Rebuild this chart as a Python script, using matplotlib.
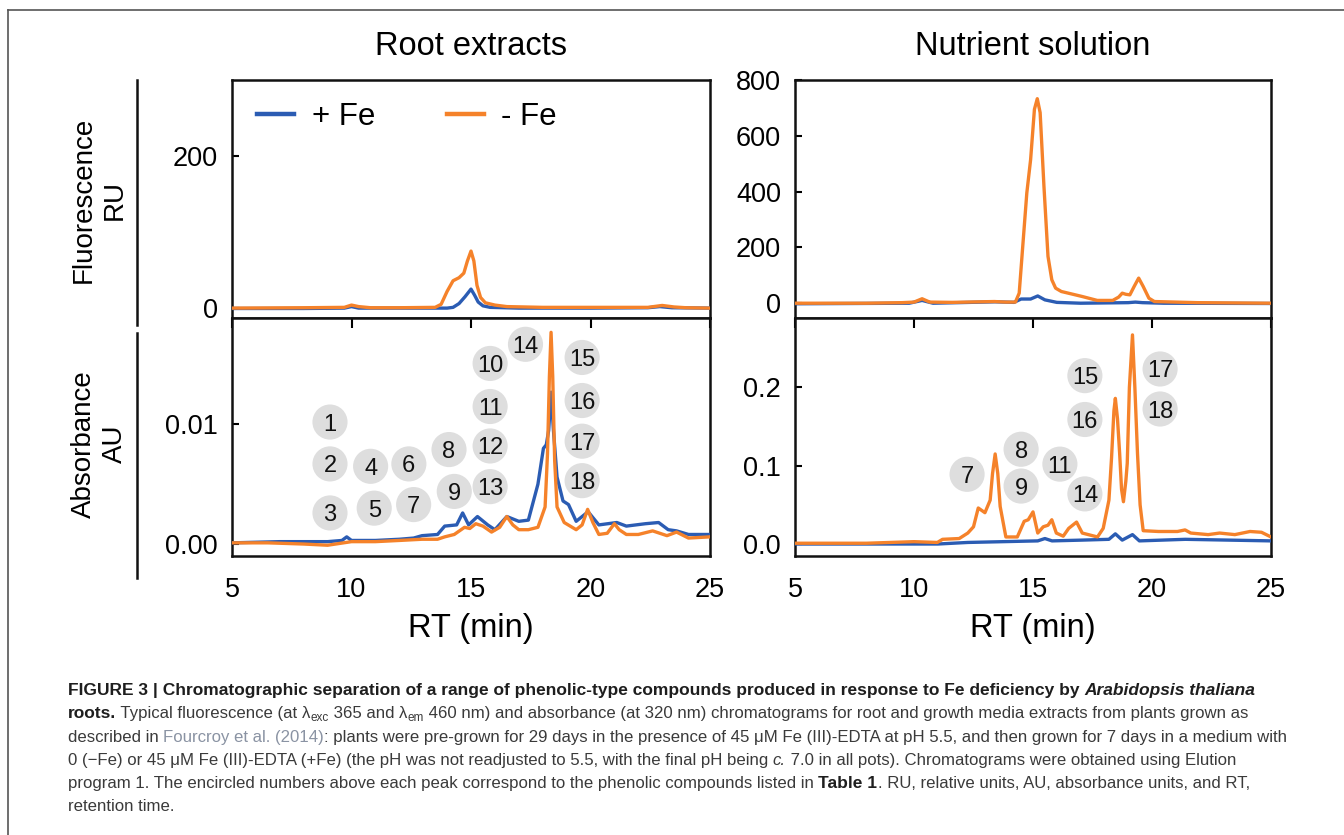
import matplotlib
matplotlib.use('Agg')
import matplotlib.pyplot as plt
from matplotlib.ticker import FormatStrFormatter
from matplotlib.lines import Line2D

plt.rcParams['font.family'] = ['Liberation Sans', 'DejaVu Sans']

BLUE = '#2b5cb3'
ORANGE = '#f5822a'

# ---- data (RT in min) ----
xticks = [5, 10, 15, 20, 25]

# Root extracts, fluorescence (RU)
root_fl_rt_plus = [5, 8, 9.7, 10.0, 10.3, 12, 14.0, 14.25, 14.5, 14.75, 15.0, 15.15, 15.3, 15.5, 15.8, 17, 20, 22.4, 22.9, 23.4, 25]
root_fl_plus = [-0.5, -0.5, 0, 2, 0, 0, 0, 1, 6, 15, 25, 17, 8, 3, 1, 0, 0, 0.5, 2, 0.5, 0]
root_fl_rt_minus = [5, 8, 9.7, 10.0, 10.3, 10.8, 12, 13.5, 13.75, 14.0, 14.25, 14.5, 14.7, 14.85, 15.0, 15.12,
                    15.25, 15.4, 15.6, 16.0, 16.5, 18, 20, 22.4, 23.0, 23.5, 24, 25]
root_fl_minus = [0, 0.5, 1, 4, 2, 0.5, 0.5, 1, 5, 22, 36, 40, 46, 62, 75, 62,
                 30, 14, 7, 4, 2, 1, 1, 1, 3.5, 1.5, 0.5, 0]

# Nutrient solution, fluorescence (RU)
nut_fl_rt_plus = [5, 9.8, 10.34, 10.8, 13.4, 14.2, 14.5, 14.9, 15.2, 15.5, 16.0, 17.0, 19.0, 19.3, 19.6, 20.5, 25]
nut_fl_plus = [-2, 0, 10, 0, 5, 3, 15, 15, 26, 12, 3, 0, 2, 4, 2, 0, -1]
nut_fl_rt_minus = [5, 8, 9.5, 10.0, 10.34, 10.66, 11.6, 13.38, 13.86, 14.26, 14.42, 14.58, 14.74, 14.9, 15.06,
                   15.18, 15.3, 15.46, 15.63, 15.79, 15.95, 16.19, 17.07, 17.7, 18.35, 18.6, 18.75, 18.9, 19.07,
                   19.25, 19.44, 19.63, 19.87, 20.1, 21.9, 25]
nut_fl_minus = [0, 0, 2, 4, 16, 4, 3, 6, 4, 4, 36, 216, 395, 515, 695,
                733, 683, 419, 168, 84, 54, 42, 24, 10, 10, 22, 36, 32, 30,
                60, 90, 60, 18, 6, 2, 0]

# Root extracts, absorbance (AU)
root_ab_rt_plus = [5, 7, 9, 9.6, 9.8, 10.0, 11, 12.0, 12.6, 12.95, 13.6, 13.9, 14.4, 14.65, 14.9, 15.27, 15.7,
                   16.0, 16.5, 17.0, 17.4, 17.8, 18.03, 18.15, 18.25, 18.35, 18.45, 18.6, 18.85, 19.08, 19.4,
                   19.9, 20.35, 21.1, 21.5, 22.3, 22.85, 23.25, 23.6, 24.1, 25]
root_ab_plus = [0.0001, 0.0002, 0.0002, 0.0003, 0.0006, 0.0003, 0.0003, 0.0004, 0.0005, 0.0007, 0.0008, 0.0015,
                0.0016, 0.0026, 0.0016, 0.0023, 0.0016, 0.0012, 0.0023, 0.0019, 0.0020, 0.0050, 0.0080, 0.0083,
                0.0095, 0.0127, 0.0095, 0.0056, 0.0036, 0.0033, 0.0019, 0.0027, 0.0016, 0.0018, 0.0015, 0.0017,
                0.0018, 0.0012, 0.0011, 0.0008, 0.0008]
root_ab_rt_minus = [5, 6.5, 8, 9, 10, 11, 12, 12.95, 13.6, 13.9, 14.3, 14.73, 14.95, 15.2, 15.5, 15.86, 16.2,
                    16.5, 16.75, 17.0, 17.4, 17.8, 18.1, 18.2, 18.28, 18.35, 18.42, 18.5, 18.6, 18.9, 19.4,
                    19.65, 19.88, 20.1, 20.35, 20.7, 21.0, 21.2, 21.5, 22.0, 22.6, 23.2, 23.6, 24.1, 25]
root_ab_minus = [0.0001, 0.0001, 0.0, -0.0001, 0.0002, 0.0002, 0.0003, 0.0004, 0.0004, 0.0006, 0.0008, 0.0014,
                 0.0013, 0.0017, 0.0015, 0.0010, 0.0014, 0.0023, 0.0016, 0.0012, 0.0012, 0.0014, 0.0031, 0.0075,
                 0.0140, 0.0177, 0.0140, 0.0070, 0.0031, 0.0018, 0.0012, 0.0016, 0.0029, 0.0018, 0.0008, 0.0009,
                 0.0017, 0.0012, 0.0008, 0.0008, 0.0011, 0.0007, 0.0010, 0.0005, 0.0006]

# Nutrient solution, absorbance (AU)
nut_ab_rt_plus = [5, 11, 12.26, 15.2, 15.5, 15.8, 17.07, 18.19, 18.46, 18.75, 19.18, 19.47, 21.4, 25]
nut_ab_plus = [0.0, 0.0, 0.002, 0.004, 0.007, 0.004, 0.005, 0.006, 0.013, 0.005, 0.012, 0.004, 0.006, 0.004]
nut_ab_rt_minus = [5, 8, 10.0, 10.98, 11.2, 11.9, 12.26, 12.5, 12.7, 12.98, 13.2, 13.3, 13.41, 13.52, 13.62,
                   13.86, 14.34, 14.63, 14.8, 15.0, 15.2, 15.43, 15.63, 15.79, 15.98, 16.27, 16.5, 16.83, 17.07,
                   17.71, 17.95, 18.19, 18.3, 18.4, 18.46, 18.55, 18.64, 18.72, 18.8, 18.9, 18.96, 19.05, 19.18,
                   19.28, 19.39, 19.5, 19.63, 20.27, 21.07, 21.39, 21.63, 22.36, 22.84, 23.48, 24.12, 24.6, 25]
nut_ab_minus = [0.001, 0.001, 0.003, 0.002, 0.006, 0.007, 0.014, 0.022, 0.046, 0.040, 0.056, 0.090, 0.115,
                0.090, 0.048, 0.009, 0.009, 0.029, 0.031, 0.041, 0.014, 0.022, 0.024, 0.031, 0.014, 0.010,
                0.020, 0.028, 0.014, 0.009, 0.020, 0.056, 0.110, 0.170, 0.186, 0.160, 0.116, 0.070, 0.054,
                0.080, 0.103, 0.200, 0.267, 0.200, 0.116, 0.050, 0.017, 0.016, 0.016, 0.018, 0.014, 0.012,
                0.014, 0.012, 0.016, 0.015, 0.009]

# encircled compound numbers (label, RT, height)
root_peaks = [('1', 9.1, 0.0102), ('2', 9.1, 0.0067), ('3', 9.1, 0.0026), ('4', 10.8, 0.0065),
              ('5', 10.95, 0.0030), ('6', 12.4, 0.0067), ('7', 12.6, 0.0033), ('8', 14.08, 0.0079),
              ('9', 14.3, 0.0044), ('10', 15.8, 0.0151), ('11', 15.8, 0.0115), ('12', 15.8, 0.0082),
              ('13', 15.8, 0.0048), ('14', 17.28, 0.0167), ('15', 19.65, 0.0156), ('16', 19.65, 0.0120),
              ('17', 19.65, 0.0086), ('18', 19.65, 0.0053)]
nut_peaks = [('7', 12.23, 0.089), ('8', 14.5, 0.121), ('9', 14.5, 0.074), ('11', 16.13, 0.102),
             ('14', 17.18, 0.064), ('15', 17.18, 0.215), ('16', 17.18, 0.159), ('17', 20.34, 0.2235),
             ('18', 20.34, 0.1724)]

# ---- figure ----
W, H = 1344, 835
fig = plt.figure(figsize=(W / 100, H / 100), dpi=100)


def px_box(x0, y0, x1, y1):
    return [x0 / W, 1 - y1 / H, (x1 - x0) / W, (y1 - y0) / H]


ax_rf = fig.add_axes(px_box(232, 80, 710, 318))
ax_ra = fig.add_axes(px_box(232, 318, 710, 556))
ax_nf = fig.add_axes(px_box(795, 80, 1271, 318))
ax_na = fig.add_axes(px_box(795, 318, 1271, 556))


def style(ax, top):
    for s in ax.spines.values():
        s.set_linewidth(1.8)
        s.set_color('#111111')
    ax.set_xlim(5, 25)
    ax.set_xticks(xticks)
    ax.tick_params(axis='y', direction='in', length=5, width=1.5, labelsize=19.5, pad=10)
    if top:
        ax.tick_params(axis='x', bottom=False, labelbottom=False)
    else:
        ax.tick_params(axis='x', top=True, bottom=False, direction='in', length=7, width=1.5,
                       labelsize=19.5, pad=15)
        ax.set_xlabel('RT (min)', fontsize=23.5, labelpad=7)


def peak_labels(ax, peaks):
    ax.scatter([p[1] for p in peaks], [p[2] for p in peaks], s=640, color='#dedede',
               edgecolors='none', zorder=1)
    for lab, x, y in peaks:
        ax.text(x, y, lab, ha='center', va='center_baseline', fontsize=17, color='#111111', zorder=2)


lw = 2.4
ax_rf.plot(root_fl_rt_plus, root_fl_plus, color=BLUE, lw=lw, label='+ Fe', zorder=3)
ax_rf.plot(root_fl_rt_minus, root_fl_minus, color=ORANGE, lw=lw, label='- Fe', zorder=4)
ax_rf.set_ylim(-13, 300)
ax_rf.set_yticks([0, 200])
style(ax_rf, True)
ax_rf.set_title('Root extracts', fontsize=23.5, pad=18)
leg = ax_rf.legend(loc='center left', bbox_to_anchor=(0.052, 0.846), ncol=2, frameon=False, fontsize=22.5,
                   handlelength=1.2, handletextpad=0.55, columnspacing=2.3, borderpad=0, borderaxespad=0)
for h in leg.get_lines():
    h.set_linewidth(3.2)

ax_ra.plot(root_ab_rt_plus, root_ab_plus, color=BLUE, lw=lw, zorder=3)
ax_ra.plot(root_ab_rt_minus, root_ab_minus, color=ORANGE, lw=lw, zorder=4)
ax_ra.set_ylim(-0.001, 0.0189)
ax_ra.set_yticks([0, 0.01])
ax_ra.yaxis.set_major_formatter(FormatStrFormatter('%.2f'))
style(ax_ra, False)
peak_labels(ax_ra, root_peaks)

ax_nf.plot(nut_fl_rt_plus, nut_fl_plus, color=BLUE, lw=lw, zorder=3)
ax_nf.plot(nut_fl_rt_minus, nut_fl_minus, color=ORANGE, lw=lw, zorder=4)
ax_nf.set_ylim(-53, 800)
ax_nf.set_yticks([0, 200, 400, 600, 800])
style(ax_nf, True)
ax_nf.set_title('Nutrient solution', fontsize=23.5, pad=18)

ax_na.plot(nut_ab_rt_plus, nut_ab_plus, color=BLUE, lw=lw, zorder=3)
ax_na.plot(nut_ab_rt_minus, nut_ab_minus, color=ORANGE, lw=lw, zorder=4)
ax_na.set_ylim(-0.0153, 0.2886)
ax_na.set_yticks([0, 0.1, 0.2])
ax_na.yaxis.set_major_formatter(FormatStrFormatter('%.1f'))
style(ax_na, False)
peak_labels(ax_na, nut_peaks)

# row labels with bars
fig.text(99 / W, 1 - 200 / H, 'Fluorescence\nRU', rotation=90, ha='center', va='center',
         fontsize=20, linespacing=1.25, multialignment='center')
fig.text(99 / W, 1 - 444 / H, 'Absorbance\nAU', rotation=90, ha='center', va='center',
         fontsize=20, linespacing=1.25, multialignment='center')
for y0, y1 in [(80, 325), (333, 578)]:
    fig.add_artist(Line2D([137 / W, 137 / W], [1 - y0 / H, 1 - y1 / H], color='#111111', lw=1.8))

# frame
fig.add_artist(Line2D([8 / W, 8 / W], [0, 1 - 10 / H], color='#555555', lw=1.2))
fig.add_artist(Line2D([8 / W, 1], [1 - 10 / H, 1 - 10 / H], color='#555555', lw=1.2))

# ---- caption ----
cap_family = ['Liberation Sans Narrow', 'Liberation Sans', 'DejaVu Sans']
TXT = '#3a3a3a'
reg = dict(color=TXT)
bold = dict(color='#1e1e1e', weight='bold')
boldit = dict(color='#1e1e1e', weight='bold', style='italic')
ital = dict(color=TXT, style='italic')
link = dict(color='#8a93a3')
sub = dict(color=TXT, sub=True)

caption = [
    [('FIGURE 3 | Chromatographic separation of a range of phenolic-type compounds produced in response to '
      'Fe deficiency by ', bold), ('Arabidopsis thaliana', boldit)],
    [('roots.', bold), (' Typical fluorescence (at ', reg), ('\u03bb', reg), ('exc', sub), (' 365 and ', reg),
     ('\u03bb', reg), ('em', sub), (' 460 nm) and absorbance (at 320 nm) chromatograms for root and growth '
                                   'media extracts from plants grown as', reg)],
    [('described in ', reg), ('Fourcroy et al. (2014)', link),
     (': plants were pre-grown for 29 days in the presence of 45 \u03bcM Fe (III)-EDTA at pH 5.5, and then '
      'grown for 7 days in a medium with', reg)],
    [('0 (\u2212Fe) or 45 \u03bcM Fe (III)-EDTA (+Fe) (the pH was not readjusted to 5.5, with the final pH '
      'being ', reg), ('c.', ital), (' 7.0 in all pots). Chromatograms were obtained using Elution', reg)],
    [('program 1. The encircled numbers above each peak correspond to the phenolic compounds listed in ', reg),
     ('Table 1', bold), ('. RU, relative units, AU, absorbance units, and RT,', reg)],
    [('retention time.', reg)],
]
baselines = [695, 718, 742, 765, 788, 811]

renderer = fig.canvas.get_renderer()


def seg_width(txt, size, kw):
    a = fig.text(0, 0, 'x' + txt + 'x', fontsize=size, family=cap_family, **kw)
    b = fig.text(0, 0, 'xx', fontsize=size, family=cap_family, **kw)
    w = a.get_window_extent(renderer).width - b.get_window_extent(renderer).width
    a.remove()
    b.remove()
    return w


def split_style(kw, size):
    kw = dict(kw)
    if kw.pop('sub', False):
        return kw, size * 0.7, size * 0.28
    if kw.get('weight') == 'bold':
        return kw, size * 1.035, 0
    return kw, size, 0


def line_width(line, size):
    total = 0
    for txt, kw in line:
        kw2, s, _ = split_style(kw, size)
        total += seg_width(txt, s, kw2)
    return total


# fit the longest caption line between x=68 and x=1290 as in the figure
cap_size = 14
cap_size = cap_size * (1290 - 68) / line_width(caption[2], cap_size)

for line, yb in zip(caption, baselines):
    x = 68.0
    for txt, kw in line:
        kw2, size, dy = split_style(kw, cap_size)
        fig.text(x / W, 1 - (yb + dy) / H, txt, fontsize=size, family=cap_family, va='baseline',
                 ha='left', **kw2)
        x += seg_width(txt, size, kw2)

fig.savefig('out.png', dpi=100)
